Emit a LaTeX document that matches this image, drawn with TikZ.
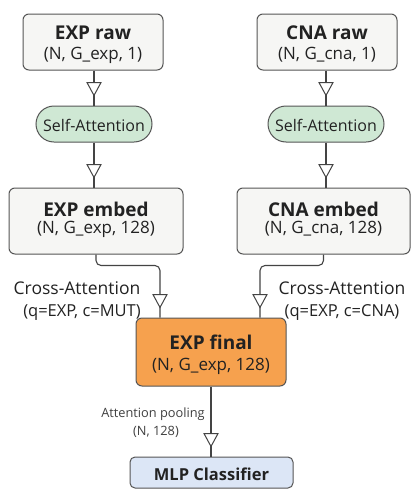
\documentclass[tikz,border=0pt]{standalone}
\usepackage{fontspec}
\setmainfont{Open Sans}
\usetikzlibrary{arrows.meta,decorations.markings}
\definecolor{boxfill}{HTML}{F6F6F4}
\definecolor{boxdraw}{HTML}{555555}
\definecolor{greenfill}{HTML}{CFE8D4}
\definecolor{orangefill}{HTML}{F6A14E}
\definecolor{bluefill}{HTML}{DCE6F6}
\definecolor{txt}{HTML}{222222}
\definecolor{linec}{HTML}{444444}
\begin{document}
\begin{tikzpicture}[x=1pt,y=-1pt,
  every node/.style={text=txt},
  databox/.style={draw=boxdraw, line width=1pt, fill=boxfill, rounded corners=6pt, inner sep=0pt},
  ttl/.style={anchor=base, inner sep=0pt, font=\fontsize{19}{21}\selectfont\bfseries},
  sub/.style={anchor=base, inner sep=0pt, font=\fontsize{17}{21}\selectfont},
  pill/.style={draw=boxdraw, line width=1pt, fill=greenfill, rounded corners=18pt, minimum width=116pt, minimum height=36pt, inner sep=0pt},
  pilltxt/.style={anchor=base, inner sep=0pt, font=\fontsize{16}{20}\selectfont},
  conn/.style={draw=linec, line width=1.1pt, rounded corners=5pt,
    postaction={decorate},
    decoration={markings, mark=at position -9pt with {\arrow{Triangle[length=14.5pt,width=15.5pt,fill=white,line width=1pt]}}}},
  lbl/.style={anchor=base, inner sep=0pt, font=\fontsize{17.5}{20}\selectfont},
  lbls/.style={anchor=base, inner sep=0pt, font=\fontsize{16.5}{20}\selectfont},
  slbl/.style={anchor=base, inner sep=0pt, font=\fontsize{12.8}{15}\selectfont, text=black!75},
]
\useasboundingbox[fill=white] (0,0) rectangle (411,490);

\node[databox, minimum width=140pt, minimum height=56pt] (expraw) at (93,42) {};
\node[ttl] (expraw-t) at (93,39) {EXP raw};
\node[sub] (expraw-s) at (93,59) {(N, G\_exp, 1)};
\node[databox, minimum width=140pt, minimum height=56pt] (cnaraw) at (327,42) {};
\node[ttl] (cnaraw-t) at (327,39) {CNA raw};
\node[sub] (cnaraw-s) at (327,59) {(N, G\_cna, 1)};

\node[pill] (sa1) at (94,124) {};
\node[pilltxt] (sa1-t) at (94,131) {Self-Attention};
\node[pill] (sa2) at (326,124) {};
\node[pilltxt] (sa2-t) at (326,131) {Self-Attention};

\node[databox, minimum width=174pt, minimum height=66pt] (expemb) at (96,221) {};
\node[ttl] (expemb-t) at (96,216) {EXP embed};
\node[sub] (expemb-s) at (96,233) {(N, G\_exp, 128)};
\node[databox, minimum width=173pt, minimum height=66pt] (cnaemb) at (323.5,221) {};
\node[ttl] (cnaemb-t) at (323.5,216) {CNA embed};
\node[sub] (cnaemb-s) at (323.5,233) {(N, G\_cna, 128)};

\node[databox, fill=orangefill, minimum width=150pt, minimum height=68pt] (final) at (211,352) {};
\node[ttl] (final-t) at (211,349) {EXP final};
\node[sub] (final-s) at (211,370) {(N, G\_exp, 128)};

\node[databox, fill=bluefill, rounded corners=5pt, minimum width=163pt, minimum height=31pt] (mlp) at (211.5,472.5) {};
\node[anchor=base, inner sep=0pt, font=\fontsize{16.5}{19}\selectfont\bfseries] (mlp-t) at (211.5,480) {MLP Classifier};

\path[conn] (expraw.south -| sa1) -- (sa1.north);
\path[conn] (cnaraw.south -| sa2) -- (sa2.north);
\path[conn] (sa1.south) -- (sa1.south |- expemb.north);
\path[conn] (sa2.south) -- (sa2.south |- cnaemb.north);

\coordinate (inL) at ([xshift=-51pt]final.north);
\coordinate (inR) at ([xshift=49pt]final.north);
\path[conn] (expemb.south) -- ++(0,11) -| (inL);
\path[conn] (cnaemb.south) -- ++(0,11) -| (inR);
\path[conn] (final.south) -- (final.south |- mlp.north);

\node[lbl] (ca1) at (77,294) {Cross-Attention};
\node[lbls] (ca1s) at (82,316) {(q=EXP, c=MUT)};
\node[lbl] (ca2) at (342,294) {Cross-Attention};
\node[lbls] (ca2s) at (342,316) {(q=EXP, c=CNA)};

\node[slbl] (ap) at (153,417) {Attention pooling};
\node[slbl] (aps) at (156,435) {(N, 128)};
\end{tikzpicture}
\end{document}
